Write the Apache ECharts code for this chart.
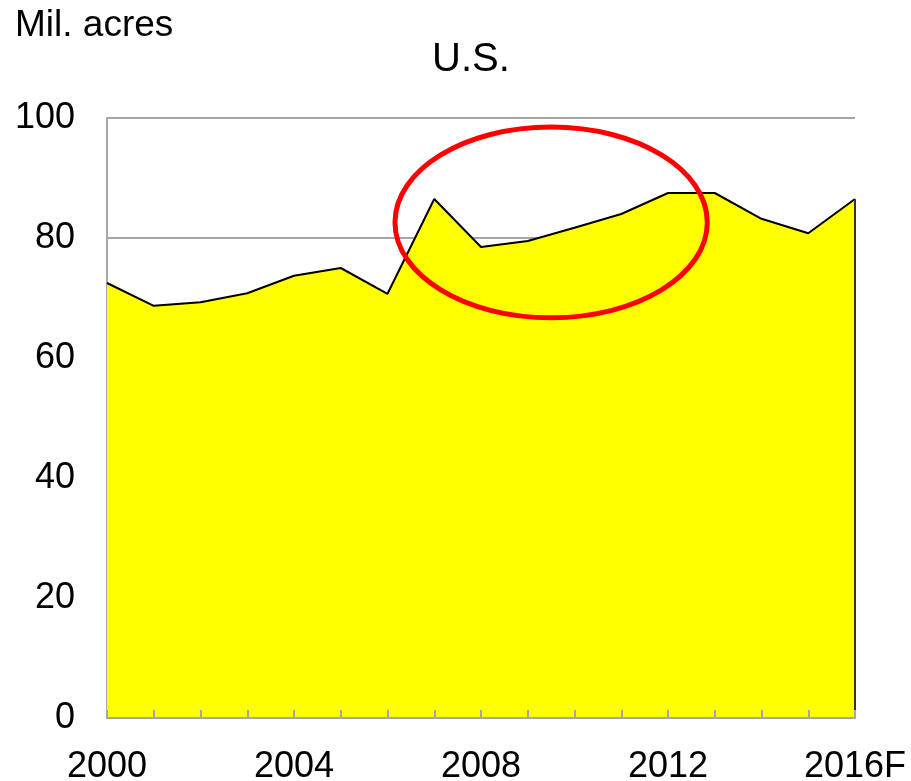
<!DOCTYPE html>
<html>
<head>
<meta charset="utf-8">
<script src="https://cdn.jsdelivr.net/npm/echarts@6/dist/echarts.min.js"></script>
<style>
  html, body { margin: 0; padding: 0; background: #fff; }
  #chart { width: 911px; height: 781px; }
</style>
</head>
<body>
<div id="chart"></div>
<script>
// planted acres, U.S.
const years = ['2000', '2001', '2002', '2003', '2004', '2005', '2006', '2007', '2008',
  '2009', '2010', '2011', '2012', '2013', '2014', '2015', '2016F'];
const acres = [72.5, 68.7, 69.3, 70.8, 73.7, 75.0, 70.7, 86.5, 78.5,
  79.5, 81.7, 84.0, 87.5, 87.5, 83.2, 80.8, 86.5];
const yTicks = [0, 20, 40, 60, 80, 100];

const font = 'Liberation Sans, Arial, sans-serif';
const last = years.length - 1;
let chart = echarts.init(document.getElementById('chart'));

const unitLabel = {
  type: 'text',
  left: 15,
  top: 7,
  style: { text: 'Mil. acres', font: '37px ' + font, fill: '#000' }
};

chart.setOption({
  animation: false,
  title: {
    text: 'U.S.',
    left: 466,
    top: 35,
    textAlign: 'center',
    textStyle: { fontFamily: font, fontSize: 40, fontWeight: 'normal', color: '#000' }
  },
  grid: { left: 107, right: 56, top: 118, bottom: 63, outerBoundsMode: 'none' },
  xAxis: {
    type: 'category',
    data: years,
    boundaryGap: false,
    z: 10,
    axisLine: { lineStyle: { color: '#a6a6a6', width: 2 } },
    axisTick: { inside: true, length: 8, interval: 0, lineStyle: { color: '#a6a6a6', width: 2 } },
    axisLabel: {
      interval: 3, margin: 31, color: '#000', fontFamily: font, fontSize: 36
    },
    splitLine: { show: false }
  },
  yAxis: {
    type: 'value',
    min: yTicks[0],
    max: yTicks[yTicks.length - 1],
    interval: 20,
    axisLine: { show: true, lineStyle: { color: '#a6a6a6', width: 2 } },
    axisTick: { show: false },
    axisLabel: { margin: 32, color: '#000', fontFamily: font, fontSize: 36 },
    splitLine: { lineStyle: { color: '#a6a6a6', width: 2 } }
  },
  series: [{
    type: 'line',
    data: acres,
    symbol: 'none',
    lineStyle: { color: '#000', width: 2 },
    areaStyle: { color: '#ffff00', opacity: 1 },
    markLine: {
      silent: true,
      symbol: 'none',
      label: { show: false },
      lineStyle: { color: '#333', width: 2, type: 'solid' },
      data: [[{ coord: [years[last], 0] }, { coord: [years[last], acres[last]] }]]
    }
  }],
  graphic: [unitLabel]
});

// red highlight ellipse around 2007-2013 (category axis snaps, so interpolate)
const p9 = chart.convertToPixel({ gridIndex: 0 }, [9, 82.6]);
const p10 = chart.convertToPixel({ gridIndex: 0 }, [10, 98.5]);
const step = p10[0] - p9[0];
const cx = p9[0] + step * 0.5;
const cy = p9[1];
chart.setOption({
  graphic: [unitLabel, {
    type: 'ellipse',
    shape: { cx: cx, cy: cy, rx: step * 3.34, ry: cy - p10[1] },
    style: { fill: 'none', stroke: '#ff0000', lineWidth: 5 },
    z: 100
  }]
});
</script>
</body>
</html>
